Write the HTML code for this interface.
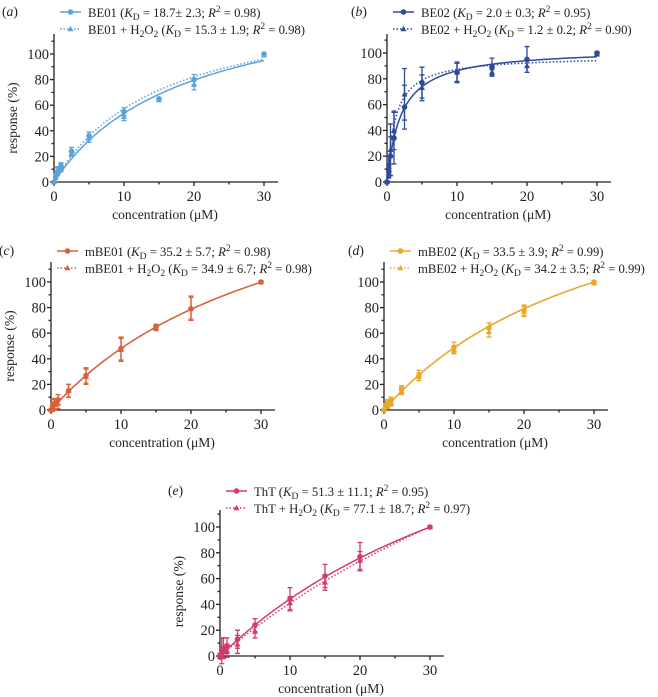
<!DOCTYPE html>
<html><head><meta charset="utf-8"><style>
html,body{margin:0;padding:0;background:#fff;}
svg{display:block;font-family:"Liberation Serif",serif;}
</style></head><body>
<svg id="fig" width="658" height="697" viewBox="0 0 658 697"></svg>
<script>
// ---- data ----
const xConc = [0, 0.25, 0.5, 1, 2.5, 5, 10, 15, 20, 30];
const xTicks = [0, 10, 20, 30];
const yTicks = [0, 20, 40, 60, 80, 100];
const panelLetters = ['a','b','c','d','e'];
const panelNames = ['BE01','BE02','mBE01','mBE02','ThT'];
const panelColors = ['#5ba3d9','#2e4b9b','#d9603b','#e8a92a','#d33a6e'];
const kdSolid = [18.7, 2.0, 35.2, 33.5, 51.3];
const kdSolidErr = ['18.7± 2.3','2.0 ± 0.3','35.2 ± 5.7','33.5 ± 3.9','51.3 ± 11.1'];
const r2Solid = ['0.98','0.95','0.98','0.99','0.95'];
const kdDot = [15.3, 1.2, 34.9, 34.2, 77.1];
const kdDotErr = ['15.3 ± 1.9','1.2 ± 0.2','34.9 ± 6.7','34.2 ± 3.5','77.1 ± 18.7'];
const r2Dot = ['0.98','0.90','0.98','0.99','0.97'];
const bmaxSolid = [154, 103.5, 217, 211.7, 271];
const bmaxDot = [145, 97.8, 216, 214, 357];
const ySolid = [
 [0,4,8,12,24,36,55,65,80,100],
 [0,8,20,34,58,77,85,89,95,100],
 [0,3,5,8,15,27,48,65,79,100],
 [0,3,5,7,16,27,49,64,78,100],
 [0,4,6,8,13,24,44,62,77,100]];
const eSolid = [
 [1,2,3,3,3,3,3,1,4,1],
 [1,5,15,20,17,12,7,7,10,1],
 [1,3,4,4,5,6,9,2,9,1],
 [1,2,3,3,3,4,4,4,4,1],
 [2,10,8,6,7,5,9,9,11,1]];
const yTri = [
 [0,5,9,11,22,34,51,64,76,99],
 [0,12,25,40,68,73,85,85,90,99],
 [0,2,4,5,15,26,47,64,80,100],
 [0,3,4,6,15,26,47,61,77,99],
 [0,2,3,4,9,19,41,57,74,100]];
const eTri = [
 [1,2,3,3,2,3,3,1,4,1],
 [1,8,20,15,20,10,8,2,5,1],
 [1,3,4,4,5,6,9,2,9,1],
 [1,2,3,3,3,3,3,4,4,1],
 [2,4,4,5,7,5,5,6,7,1]];
// ---- layout (pixel geometry, not data) ----
const layout = [
 {x0:54,x30:264,y0:182,y100:54,top:34,leg:12},
 {x0:387,x30:597,y0:182,y100:53,top:34,leg:12},
 {x0:51,x30:261,y0:410,y100:282,top:262,leg:251},
 {x0:384,x30:594,y0:410,y100:282,top:262,leg:251},
 {x0:220,x30:430,y0:656,y100:527,top:510,leg:491}];
const svg = document.getElementById('fig');
const NS='http://www.w3.org/2000/svg';
function mk(tag, at, parent){const e=document.createElementNS(NS,tag);for(const k in at)e.setAttribute(k,at[k]);(parent||svg).appendChild(e);return e;}
function txt(s, at, parent){const e=mk('text',at,parent);e.innerHTML=s;return e;}
const FS=14.5, TS=13.6, LS=12.7;
layout.forEach((L,p)=>{
  const c=panelColors[p];
  const sx=v=>L.x0+(v/30)*(L.x30-L.x0);
  const sy=v=>L.y0-(v/100)*(L.y0-L.y100);
  const g=mk('g',{});
  
  
  const ax=mk('g',{stroke:'#222','stroke-width':1.3,fill:'none'},g);
  
  
  mk('line',{x1:L.x0,y1:L.top,x2:L.x0,y2:L.y0},ax);
  mk('line',{x1:L.x0,y1:L.y0,x2:sx(32),y2:L.y0},ax);
  for(let v=0;v<=110;v+=10){const y=sy(v);mk('line',{x1:L.x0-(v%20===0?4:2.5),y1:y,x2:L.x0,y2:y},ax);}
  for(let v=0;v<=30;v+=5){const x=sx(v);mk('line',{x1:x,y1:L.y0,x2:x,y2:L.y0+(v%10===0?4:2.5)},ax);}
  yTicks.forEach(v=>{const t=txt(String(v),{x:L.x0-5,y:sy(v)+5,'text-anchor':'end','font-size':FS,fill:'#222'},g);
    });
  xTicks.forEach(v=>{const t=txt(String(v),{x:sx(v),y:L.y0+19,'text-anchor':'middle','font-size':FS,fill:'#222'},g);
    });
  const xt=txt('concentration (μM)',{x:(L.x0+sx(30))/2+6,y:L.y0+37,'text-anchor':'middle','font-size':TS,fill:'#222'},g);
  
  if(p!==1&&p!==3){const ym=(L.y0+L.y100)/2;const xx=L.x0-37;
    const yt=txt('response (%)',{x:xx,y:ym,'text-anchor':'middle','font-size':TS,fill:'#222',transform:`rotate(-90 ${xx} ${ym})`},g);
    }
  const pl=txt('('+'<tspan font-style="italic">'+panelLetters[p]+'</tspan>)',{x:L.x0-52+(p===1||p===3?16:0),y:L.leg+4,'font-size':TS,fill:'#222'},g);
  
  const mkCurve=(kd,bm,dash,name)=>{let d='';for(let i=0;i<=120;i++){const x=30*i/120;const y=bm*x/(kd+x);d+=(i?'L':'M')+sx(x).toFixed(1)+','+sy(y).toFixed(1);}
    const pa=mk('path',{d:d,stroke:c,'stroke-width':1.5,fill:'none','stroke-dasharray':dash},g);
    };
  mkCurve(kdSolid[p],bmaxSolid[p],'none','fit-curve');
  mkCurve(kdDot[p],bmaxDot[p],'1.5,2','fit-curve-h2o2');
  const drawSeries=(ys,es,tri,name)=>{const sg=mk('g',{},g);
    
    xConc.forEach((xv,i)=>{const x=sx(xv),y=sy(ys[i]),e=es[i];
      const y1=sy(ys[i]+e),y2=sy(ys[i]-e);
      const eb=mk('path',{d:`M${x},${y1}V${y2}M${x-2.5},${y1}H${x+2.5}M${x-2.5},${y2}H${x+2.5}`,stroke:c,'stroke-width':1.3,fill:'none'},sg);
      
      let m;
      if(tri){m=mk('path',{d:`M${x},${y-3.2}L${x+3},${y+2.2}L${x-3},${y+2.2}Z`,fill:c},sg);}
      else{m=mk('circle',{cx:x,cy:y,r:2.8,fill:c},sg);}
      });};
  drawSeries(ySolid[p],eSolid[p],false,'series-'+panelNames[p]);
  drawSeries(yTri[p],eTri[p],true,'series-'+panelNames[p]+'-h2o2');
  const lx=L.x0+6, ly=L.leg;
  const lg=mk('g',{},g);
  
  mk('line',{x1:lx,y1:ly,x2:lx+21,y2:ly,stroke:c,'stroke-width':1.5},lg);
  mk('circle',{cx:lx+10.5,cy:ly,r:2.8,fill:c},lg);
  mk('line',{x1:lx,y1:ly+17,x2:lx+21,y2:ly+17,stroke:c,'stroke-width':1.5,'stroke-dasharray':'1.5,2'},lg);
  mk('path',{d:`M${lx+10.5},${ly+13.8}L${lx+13.5},${ly+19.2}L${lx+7.5},${ly+19.2}Z`,fill:c},lg);
  const n=panelNames[p];
  const l1=txt(`${n} (<tspan font-style="italic">K</tspan><tspan font-size="9.5" dy="3">D</tspan><tspan dy="-3"> = ${kdSolidErr[p]}; </tspan><tspan font-style="italic">R</tspan><tspan font-size="9.5" dy="-5">2</tspan><tspan dy="5"> = ${r2Solid[p]})</tspan>`,{x:lx+28,y:ly+5,'font-size':LS,fill:'#222'},lg);
  
  const l2=txt(`${n} + H<tspan font-size="9.5" dy="3">2</tspan><tspan dy="-3">O</tspan><tspan font-size="9.5" dy="3">2</tspan><tspan dy="-3"> (</tspan><tspan font-style="italic">K</tspan><tspan font-size="9.5" dy="3">D</tspan><tspan dy="-3"> = ${kdDotErr[p]}; </tspan><tspan font-style="italic">R</tspan><tspan font-size="9.5" dy="-5">2</tspan><tspan dy="5"> = ${r2Dot[p]})</tspan>`,{x:lx+28,y:ly+22,'font-size':LS,fill:'#222'},lg);
  
});
</script>
</body></html>
